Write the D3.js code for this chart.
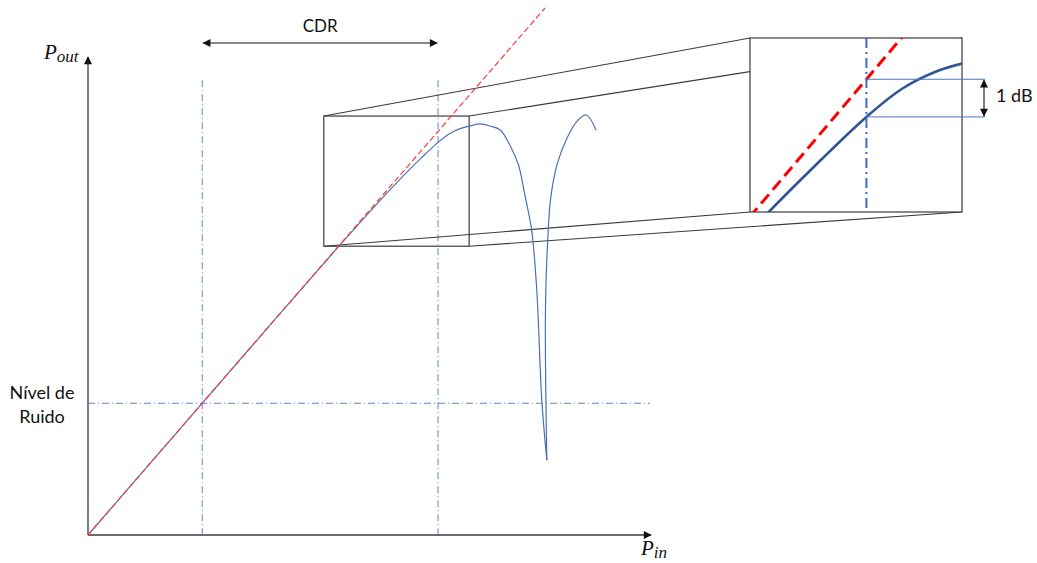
<!DOCTYPE html>
<html lang="en">
<head>
    <meta charset="UTF-8">
    <script src="https://d3js.org/d3.v7.min.js"></script>
    <title>CDR</title>
    <style>
        body { margin: 0; background: #fff; }
        text { font-family: Lato, "Open Sans", sans-serif; fill: #111; }
        .math { font-family: "Liberation Serif", serif; font-style: italic; }
    </style>
</head>
<body>
<svg id="chart" width="1037" height="563"></svg>
<script>
    // Pin / Pout (same units on both axes)
    var pin = [0, 40, 55, 60, 65, 70, 73, 76.6, 79, 81.4, 83.5, 85.8, 88, 90.2, 92.3, 94.2, 95.6, 96.5, 97.1, 98.2, 99.3, 100.4];
    var pout = [0, 40, 54.9, 59.75, 64.5, 69.05, 71.6, 74.5, 76.1, 77.1, 77.6, 78.0, 77.6, 76.85, 74.0, 70.2, 64.5, 60.7, 57.8, 46.5, 25.6, 14.2];
    // second lobe after the null
    var pin2 = [100.4, 100.1, 100.6, 101.2, 102.6, 104.8, 106.9, 109.0, 111.2];
    var pout2 = [14.2, 42.7, 56.0, 63.6, 70.2, 75.3, 78.4, 79.7, 76.8];
    // ideal (linear) response
    var idealIn = [0, 100];
    var idealOut = [0, 100];

    var noiseLevel = 25;      // Nivel de Ruido
    var p1dbIn = 76.6;        // 1 dB compression point
    var p1dbOut = 74.5;
    var zoomBox = [51.6, 83.4, 54.8, 79.5];   // x0, x1, y0, y1 of the small box
    var insetDomX = [68.94, 82.89];
    var insetDomY = [69.2, 78.9];

    var svg = d3.select("#chart");

    var x = d3.scaleLinear().domain([0, 100]).range([88, 545]);
    var y = d3.scaleLinear().domain([0, 100]).range([535, 8]);

    // inset (zoomed) scales
    var inset = { left: 750, top: 38, width: 212, height: 174 };
    var xi = d3.scaleLinear().domain(insetDomX).range([inset.left, inset.left + inset.width]);
    var yi = d3.scaleLinear().domain(insetDomY).range([inset.top + inset.height, inset.top]);

    var defs = svg.append("defs");
    defs.append("marker")
        .attr("id", "arrow")
        .attr("viewBox", "0 0 10 10")
        .attr("refX", 9).attr("refY", 5)
        .attr("markerWidth", 9).attr("markerHeight", 8)
        .attr("markerUnits", "userSpaceOnUse")
        .attr("orient", "auto-start-reverse")
        .append("path").attr("d", "M0,0L10,5L0,10Z").attr("fill", "#111");

    defs.append("clipPath").attr("id", "insetClip")
        .append("rect")
        .attr("x", inset.left).attr("y", inset.top)
        .attr("width", inset.width).attr("height", inset.height);

    var blueMain = d3.zip(pin, pout);
    var blueLobe = d3.zip(pin2, pout2);
    var ideal = d3.zip(idealIn, idealOut);

    var lineMain = d3.line().x(function (d) { return x(d[0]); }).y(function (d) { return y(d[1]); })
        .curve(d3.curveCatmullRom.alpha(0.5));
    var lineInset = d3.line().x(function (d) { return xi(d[0]); }).y(function (d) { return yi(d[1]); })
        .curve(d3.curveCatmullRom.alpha(0.5));

    // axes
    var axisColor = "#3a3a3a";
    svg.append("line")
        .attr("x1", x(0)).attr("y1", y(0)).attr("x2", x(0)).attr("y2", 57)
        .attr("stroke", axisColor).attr("stroke-width", 1.3)
        .attr("marker-end", "url(#arrow)");
    svg.append("line")
        .attr("x1", x(0)).attr("y1", y(0)).attr("x2", 651).attr("y2", y(0))
        .attr("stroke", axisColor).attr("stroke-width", 1.3)
        .attr("marker-end", "url(#arrow)");

    // axis labels
    var pOut = svg.append("text").attr("class", "math").attr("x", 44).attr("y", 59).style("font-size", "21px");
    pOut.append("tspan").text("P");
    pOut.append("tspan").attr("dy", 3).style("font-size", "17px").text("out");
    var pIn = svg.append("text").attr("class", "math").attr("x", 641).attr("y", 555).style("font-size", "21px");
    pIn.append("tspan").text("P");
    pIn.append("tspan").attr("dy", 3).style("font-size", "17px").text("in");

    // dash-dot guides
    var guideColor = "#4a78c8";
    var dashDot = "7,3,1,3";
    [noiseLevel, p1dbIn].forEach(function (v) {
        svg.append("line")
            .attr("x1", x(v)).attr("x2", x(v))
            .attr("y1", y(86.3)).attr("y2", y(0))
            .attr("stroke", guideColor).attr("stroke-width", 0.9)
            .attr("stroke-dasharray", dashDot);
    });
    svg.append("line")
        .attr("x1", x(0)).attr("x2", 650)
        .attr("y1", y(noiseLevel)).attr("y2", y(noiseLevel))
        .attr("stroke", guideColor).attr("stroke-width", 0.9)
        .attr("stroke-dasharray", dashDot);

    // Nivel de ruido label
    var nr = svg.append("text").attr("text-anchor", "middle").style("font-size", "18px");
    nr.append("tspan").attr("x", 42).attr("y", 399).text("Nível de");
    nr.append("tspan").attr("x", 42).attr("y", 423).text("Ruido");

    // CDR arrow
    svg.append("line")
        .attr("x1", x(noiseLevel) + 1).attr("x2", x(p1dbIn) - 1)
        .attr("y1", 43).attr("y2", 43)
        .attr("stroke", "#111").attr("stroke-width", 1.2)
        .attr("marker-start", "url(#arrow)")
        .attr("marker-end", "url(#arrow)");
    svg.append("text")
        .attr("x", (x(noiseLevel) + x(p1dbIn)) / 2).attr("y", 32)
        .attr("text-anchor", "middle").style("font-size", "17px")
        .text("CDR");

    // zoom box and perspective lines
    var boxColor = "#3a3a3a";
    var bx0 = x(zoomBox[0]), bx1 = x(zoomBox[1]), by0 = y(zoomBox[3]), by1 = y(zoomBox[2]);
    var ix0 = inset.left, ix1 = inset.left + inset.width, iy0 = inset.top, iy1 = inset.top + inset.height;
    [[bx0, by0, ix0, iy0], [bx1, by0, ix1, iy0], [bx0, by1, ix0, iy1], [bx1, by1, ix1, iy1]].forEach(function (s) {
        svg.append("line")
            .attr("x1", s[0]).attr("y1", s[1]).attr("x2", s[2]).attr("y2", s[3])
            .attr("stroke", boxColor).attr("stroke-width", 1.1);
    });
    svg.append("rect")
        .attr("x", bx0).attr("y", by0).attr("width", bx1 - bx0).attr("height", by1 - by0)
        .attr("fill", "none").attr("stroke", boxColor).attr("stroke-width", 1.2);

    // main curves
    svg.append("path").datum(blueMain).attr("d", lineMain)
        .attr("fill", "none").attr("stroke", "#4c70b6").attr("stroke-width", 1.2);
    svg.append("path").datum(blueLobe).attr("d", lineMain)
        .attr("fill", "none").attr("stroke", "#4c70b6").attr("stroke-width", 1.2);
    svg.append("path").datum(ideal).attr("d", lineMain)
        .attr("fill", "none").attr("stroke", "#ff3b3b").attr("stroke-width", 1.2)
        .attr("stroke-dasharray", "6,3");

    // inset
    svg.append("rect")
        .attr("x", inset.left).attr("y", inset.top).attr("width", inset.width).attr("height", inset.height)
        .attr("fill", "white").attr("stroke", boxColor).attr("stroke-width", 1.2);
    var ig = svg.append("g").attr("clip-path", "url(#insetClip)");
    ig.append("path").datum(blueMain).attr("d", lineInset)
        .attr("fill", "none").attr("stroke", "#2f5597").attr("stroke-width", 2.6);
    ig.append("path").datum(ideal).attr("d", lineInset)
        .attr("fill", "none").attr("stroke", "#ff0000").attr("stroke-width", 3)
        .attr("stroke-dasharray", "12,6");
    ig.append("line")
        .attr("x1", xi(p1dbIn)).attr("x2", xi(p1dbIn))
        .attr("y1", inset.top).attr("y2", inset.top + inset.height - 3)
        .attr("stroke", "#3c6bc9").attr("stroke-width", 2)
        .attr("stroke-dasharray", "10,4,2,4");

    // 1 dB marks
    [p1dbIn, p1dbOut].forEach(function (v) {
        svg.append("line")
            .attr("x1", xi(p1dbIn)).attr("x2", 985)
            .attr("y1", yi(v)).attr("y2", yi(v))
            .attr("stroke", "#4a78c8").attr("stroke-width", 1);
    });
    svg.append("line")
        .attr("x1", 984).attr("x2", 984)
        .attr("y1", yi(p1dbIn) + 1).attr("y2", yi(p1dbOut) - 1)
        .attr("stroke", "#111").attr("stroke-width", 1.1)
        .attr("marker-start", "url(#arrow)")
        .attr("marker-end", "url(#arrow)");
    svg.append("text")
        .attr("x", 996).attr("y", 102)
        .style("font-size", "18px")
        .text("1 dB");
</script>
</body>
</html>
